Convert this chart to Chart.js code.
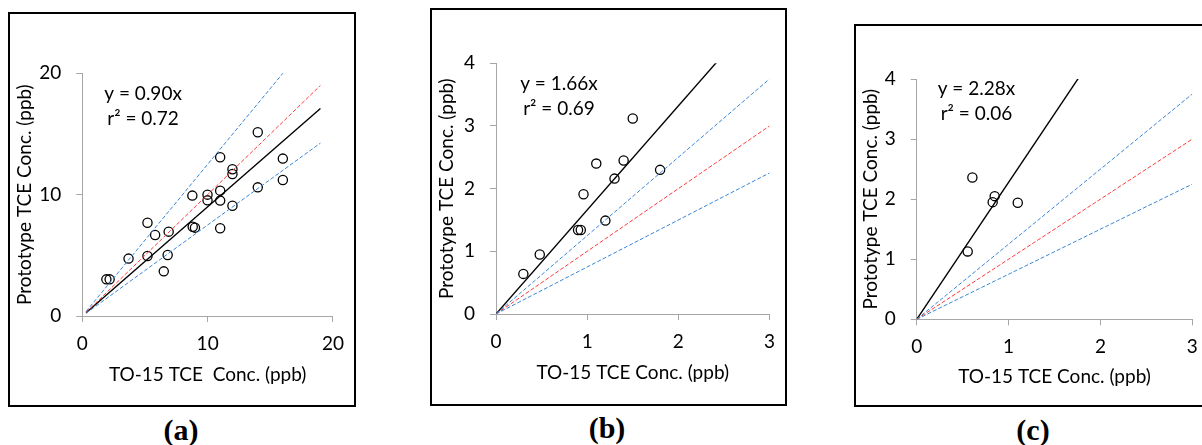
<!DOCTYPE html>
<html>
<head>
<meta charset="utf-8">
<script src="https://cdn.jsdelivr.net/npm/chart.js@4.4.1/dist/chart.umd.min.js"></script>
<style>
  body { margin: 0; width: 1202px; height: 445px; overflow: hidden; background: #fff; position: relative; }
  .frame { position: absolute; border: 2px solid #000; box-sizing: border-box; background: #fff; }
  .frame canvas { display: block; }
  .tag { position: absolute; font: bold 30px "Liberation Serif", "Times New Roman", serif; transform: translate(-50%, -50%); }
</style>
</head>
<body>
<div class="frame" style="left:8px;top:12px;width:348px;height:395px"><canvas id="chartA" width="344" height="391"></canvas></div>
<div class="frame" style="left:430px;top:8px;width:357px;height:398px"><canvas id="chartB" width="353" height="394"></canvas></div>
<div class="frame" style="left:854px;top:24px;width:358px;height:383px"><canvas id="chartC" width="354" height="379"></canvas></div>
<div class="tag" style="left:181px;top:430px">(a)</div>
<div class="tag" style="left:607px;top:428px">(b)</div>
<div class="tag" style="left:1033px;top:430px">(c)</div>

<script>
// (a) all samples
const aTo15 = [1.92, 2.18, 3.69, 5.2, 5.2, 5.81, 6.5, 6.81, 6.89, 8.78, 8.81, 8.99, 9.99, 9.99, 11.0, 11.0, 11.0, 11.0, 11.98, 11.98, 11.98, 14.0, 14.0, 16.0, 16.0];
const aProto = [3.02, 3.02, 4.73, 7.69, 4.95, 6.68, 3.68, 5.03, 6.95, 9.92, 7.36, 7.28, 10.0, 9.53, 13.08, 10.33, 9.51, 7.23, 12.09, 11.7, 9.09, 15.14, 10.6, 12.97, 11.21];

// (b)
const bTo15 = [0.30, 0.48, 0.90, 0.93, 0.96, 1.10, 1.20, 1.30, 1.40, 1.50, 1.80];
const bProto = [0.64, 0.95, 1.34, 1.34, 1.91, 2.40, 1.49, 2.16, 2.45, 3.12, 2.30];

// (c)
const cTo15 = [0.555, 0.606, 0.827, 0.849, 1.10];
const cProto = [1.13, 2.36, 1.95, 2.05, 1.94];

// regression through origin for each panel
const fitSlopes = [0.90, 1.66, 2.28];
const fitR2 = ["0.72", "0.69", "0.06"];

// 1:1 line with +/-25% bounds
const refSlopes = [1.25, 1.0, 0.75];
const refColors = ["#3a87d6", "#ff3b3b", "#3a87d6"];

const xTitles = ["TO-15 TCE  Conc. (ppb)", "TO-15 TCE Conc. (ppb)", "TO-15 TCE Conc. (ppb)"];
const yTitle = "Prototype TCE Conc. (ppb)";

Chart.defaults.font.family = "Lato, 'Open Sans', sans-serif";
Chart.defaults.color = "#000";

const axisGray = "#a6a6a6";

// straight line y = k*x between two x values
const lineThrough = (k, x0, x1) => [{ x: x0, y: k * x0 }, { x: x1, y: k * x1 }];
const toPoints = (xs, ys) => xs.map((x, i) => ({ x: x, y: ys[i] }));

// equation + r² text, anchored in data units
const fitLabel = {
  id: "fitLabel",
  afterDatasetsDraw(chart, args, opts) {
    const { ctx, scales } = chart;
    const cx = scales.x.getPixelForValue(opts.x);
    const cy = scales.y.getPixelForValue(opts.y);
    ctx.save();
    ctx.font = "19px Lato, 'Open Sans', sans-serif";
    ctx.fillStyle = "#000";
    ctx.textAlign = "center";
    ctx.textBaseline = "middle";
    opts.lines.forEach((t, i) => ctx.fillText(t, cx, cy + i * 24.5));
    ctx.restore();
  }
};

function makePanel(id, p) {
  const datasets = refSlopes.map((k, i) => ({
    data: lineThrough(k, p.lineFrom, p.lineTo),
    showLine: true,
    borderColor: refColors[i],
    borderWidth: 1,
    borderDash: [4, 2],
    pointRadius: 0,
  }));
  datasets.push({
    data: lineThrough(p.slope, p.lineFrom, p.lineTo),
    showLine: true,
    borderColor: "#000",
    borderWidth: 1.4,
    pointRadius: 0,
  });
  datasets.push({
    data: p.points,
    pointRadius: 4.6,
    pointBorderWidth: 1.3,
    pointBorderColor: "#000",
    pointBackgroundColor: "rgba(0,0,0,0)",
  });

  return new Chart(document.getElementById(id), {
    type: "scatter",
    data: { datasets: datasets },
    plugins: [fitLabel],
    options: {
      responsive: false,
      animation: false,
      layout: { padding: { left: 0, top: p.padTop, right: p.padRight, bottom: 0 } },
      plugins: {
        legend: { display: false },
        tooltip: { enabled: false },
        fitLabel: { x: p.labelX, y: p.labelY, lines: ["y = " + p.slope.toFixed(2) + "x", "r² = " + p.r2] },
      },
      scales: {
        x: {
          min: 0,
          max: p.xMax,
          ticks: { stepSize: p.xStep, font: { size: 19 }, padding: 10, maxRotation: 0 },
          grid: { drawOnChartArea: false, tickLength: 6, color: axisGray },
          border: { color: axisGray },
          title: { display: true, text: p.xTitle, font: { size: 19 }, padding: { top: 0, bottom: p.xTitlePad } },
          afterFit: (s) => { s.height = p.xHeight; },
        },
        y: {
          min: 0,
          max: p.yMax,
          ticks: { stepSize: p.yStep, font: { size: 19 }, padding: 15 },
          grid: { drawOnChartArea: false, tickLength: 6, color: axisGray },
          border: { color: axisGray },
          title: { display: true, text: yTitle, font: { size: 19 }, padding: { top: p.yTitlePad, bottom: 0 } },
          afterFit: (s) => { s.width = p.yWidth; },
        },
      },
    },
  });
}

makePanel("chartA", {
  points: toPoints(aTo15, aProto), slope: fitSlopes[0], r2: fitR2[0],
  lineFrom: 0.3, lineTo: 19, xMax: 20, xStep: 10, yMax: 20, yStep: 10,
  labelX: 4.85, labelY: 18.3, xTitle: xTitles[0],
  padTop: 59.3, padRight: 11.3, yWidth: 72.3, xHeight: 89, yTitlePad: 3.6, xTitlePad: 18.6,
});

makePanel("chartB", {
  points: toPoints(bTo15, bProto), slope: fitSlopes[1], r2: fitR2[1],
  lineFrom: 0, lineTo: 3, xMax: 3, xStep: 1, yMax: 4, yStep: 1,
  labelX: 0.69, labelY: 3.67, xTitle: xTitles[1],
  padTop: 53.3, padRight: 9.7, yWidth: 64, xHeight: 90, yTitlePad: 3.6, xTitlePad: 19.6,
});

makePanel("chartC", {
  points: toPoints(cTo15, cProto), slope: fitSlopes[2], r2: fitR2[2],
  lineFrom: 0, lineTo: 3, xMax: 3, xStep: 1, yMax: 4, yStep: 1,
  labelX: 0.65, labelY: 3.83, xTitle: xTitles[2],
  padTop: 53, padRight: 17.7, yWidth: 60.7, xHeight: 85.7, yTitlePad: 3.1, xTitlePad: 16.9,
});
</script>
</body>
</html>
